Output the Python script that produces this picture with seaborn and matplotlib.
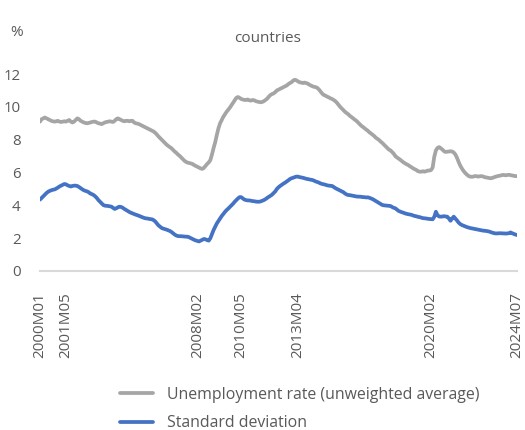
import numpy as np
import pandas as pd
import matplotlib
matplotlib.use("Agg")
import matplotlib.pyplot as plt
import seaborn as sns

# Monthly series, 2000M01 .. 2024M07 (one row per year)
unemployment_avg = [
    9.10, 9.25, 9.30, 9.35, 9.30, 9.25, 9.20, 9.15, 9.12, 9.10, 9.12, 9.15,
    9.10, 9.08, 9.10, 9.12, 9.10, 9.15, 9.20, 9.10, 9.05, 9.10, 9.20, 9.30,
    9.25, 9.15, 9.10, 9.05, 9.02, 9.00, 9.02, 9.05, 9.08, 9.10, 9.10, 9.05,
    9.00, 8.98, 8.95, 9.00, 9.05, 9.08, 9.10, 9.12, 9.10, 9.08, 9.15, 9.25,
    9.30, 9.25, 9.20, 9.15, 9.12, 9.15, 9.15, 9.12, 9.15, 9.15, 9.05, 9.00,
    8.98, 8.95, 8.90, 8.85, 8.80, 8.75, 8.70, 8.65, 8.60, 8.55, 8.50, 8.42,
    8.32, 8.20, 8.10, 8.00, 7.90, 7.80, 7.70, 7.62, 7.55, 7.48, 7.38, 7.28,
    7.20, 7.10, 7.02, 6.92, 6.82, 6.72, 6.65, 6.60, 6.58, 6.55, 6.52, 6.45,
    6.40, 6.35, 6.30, 6.25, 6.22, 6.28, 6.40, 6.52, 6.62, 6.76, 7.10, 7.50,
    7.85, 8.30, 8.70, 9.00, 9.20, 9.40, 9.55, 9.70, 9.82, 9.95, 10.10, 10.25,
    10.40, 10.55, 10.60, 10.55, 10.48, 10.45, 10.42, 10.42, 10.45, 10.40, 10.38, 10.42,
    10.40, 10.35, 10.32, 10.30, 10.28, 10.30, 10.35, 10.42, 10.50, 10.62, 10.72, 10.78,
    10.82, 10.90, 11.00, 11.05, 11.10, 11.15, 11.20, 11.25, 11.30, 11.38, 11.45, 11.50,
    11.60, 11.65, 11.62, 11.55, 11.50, 11.48, 11.45, 11.48, 11.45, 11.42, 11.35, 11.30,
    11.25, 11.22, 11.20, 11.15, 11.05, 10.92, 10.80, 10.72, 10.68, 10.62, 10.58, 10.52,
    10.48, 10.42, 10.35, 10.25, 10.12, 10.00, 9.90, 9.80, 9.70, 9.62, 9.55, 9.45,
    9.38, 9.30, 9.22, 9.15, 9.05, 8.95, 8.85, 8.78, 8.70, 8.62, 8.55, 8.45,
    8.38, 8.30, 8.22, 8.12, 8.05, 7.98, 7.88, 7.80, 7.70, 7.60, 7.50, 7.40,
    7.35, 7.25, 7.15, 7.00, 6.92, 6.85, 6.78, 6.70, 6.62, 6.56, 6.50, 6.45,
    6.38, 6.32, 6.25, 6.20, 6.15, 6.08, 6.05, 6.05, 6.08, 6.05, 6.08, 6.12,
    6.12, 6.15, 6.30, 6.96, 7.35, 7.50, 7.55, 7.48, 7.40, 7.30, 7.25, 7.27,
    7.28, 7.30, 7.28, 7.22, 7.10, 6.90, 6.65, 6.42, 6.25, 6.10, 5.98, 5.88,
    5.80, 5.75, 5.74, 5.75, 5.78, 5.78, 5.75, 5.77, 5.78, 5.76, 5.72, 5.70,
    5.68, 5.66, 5.65, 5.68, 5.72, 5.75, 5.78, 5.80, 5.82, 5.85, 5.85, 5.83,
    5.85, 5.86, 5.84, 5.82, 5.80, 5.78, 5.78,
]

standard_deviation = [
    4.35, 4.45, 4.55, 4.65, 4.75, 4.83, 4.88, 4.92, 4.95, 4.97, 5.02, 5.08,
    5.15, 5.20, 5.25, 5.30, 5.28, 5.22, 5.18, 5.15, 5.18, 5.20, 5.20, 5.18,
    5.12, 5.05, 4.98, 4.92, 4.88, 4.85, 4.80, 4.72, 4.68, 4.63, 4.55, 4.45,
    4.32, 4.22, 4.12, 4.02, 3.98, 3.97, 3.96, 3.94, 3.92, 3.85, 3.78, 3.82,
    3.88, 3.92, 3.90, 3.85, 3.78, 3.72, 3.66, 3.60, 3.55, 3.51, 3.47, 3.43,
    3.40, 3.36, 3.32, 3.28, 3.24, 3.21, 3.20, 3.18, 3.16, 3.15, 3.10, 3.02,
    2.90, 2.78, 2.70, 2.62, 2.58, 2.55, 2.52, 2.48, 2.44, 2.38, 2.30, 2.22,
    2.16, 2.13, 2.12, 2.12, 2.11, 2.10, 2.09, 2.09, 2.05, 2.00, 1.95, 1.90,
    1.86, 1.83, 1.80, 1.85, 1.90, 1.95, 1.93, 1.88, 1.85, 2.00, 2.25, 2.50,
    2.70, 2.90, 3.05, 3.21, 3.35, 3.48, 3.60, 3.71, 3.80, 3.90, 4.00, 4.10,
    4.22, 4.32, 4.42, 4.50, 4.50, 4.42, 4.35, 4.32, 4.30, 4.30, 4.28, 4.26,
    4.25, 4.23, 4.22, 4.22, 4.24, 4.28, 4.32, 4.38, 4.45, 4.52, 4.58, 4.65,
    4.75, 4.85, 5.00, 5.10, 5.18, 5.25, 5.32, 5.38, 5.45, 5.52, 5.60, 5.65,
    5.68, 5.72, 5.75, 5.75, 5.72, 5.70, 5.68, 5.65, 5.62, 5.60, 5.58, 5.56,
    5.54, 5.50, 5.45, 5.42, 5.38, 5.33, 5.30, 5.28, 5.25, 5.22, 5.20, 5.19,
    5.18, 5.12, 5.05, 5.00, 4.95, 4.90, 4.85, 4.80, 4.72, 4.66, 4.63, 4.62,
    4.60, 4.58, 4.56, 4.54, 4.53, 4.53, 4.52, 4.50, 4.50, 4.48, 4.49, 4.46,
    4.42, 4.38, 4.32, 4.26, 4.20, 4.14, 4.08, 4.02, 4.00, 3.99, 3.98, 3.97,
    3.96, 3.90, 3.85, 3.82, 3.74, 3.66, 3.62, 3.58, 3.55, 3.51, 3.48, 3.46,
    3.44, 3.42, 3.38, 3.35, 3.33, 3.30, 3.28, 3.25, 3.22, 3.21, 3.20, 3.18,
    3.17, 3.16, 3.15, 3.30, 3.61, 3.40, 3.32, 3.31, 3.32, 3.34, 3.32, 3.31,
    3.20, 3.06, 3.20, 3.31, 3.20, 3.08, 2.95, 2.86, 2.80, 2.76, 2.72, 2.68,
    2.65, 2.62, 2.60, 2.58, 2.56, 2.54, 2.52, 2.50, 2.48, 2.46, 2.45, 2.44,
    2.42, 2.40, 2.36, 2.33, 2.30, 2.29, 2.29, 2.30, 2.30, 2.29, 2.29, 2.28,
    2.29, 2.30, 2.35, 2.30, 2.26, 2.22, 2.19,
]

series_names = ["Unemployment rate (unweighted average)", "Standard deviation"]
series_colors = ["#a5a5a5", "#4472c4"]
tick_labels = ["2000M01", "2001M05", "2008M02", "2010M05", "2013M04", "2020M02", "2024M07"]
y_ticks = [0, 2, 4, 6, 8, 10, 12]

months = [f"{2000 + i // 12}M{i % 12 + 1:02d}" for i in range(len(unemployment_avg))]

df = pd.DataFrame({
    "period": months * 2,
    "t": list(range(len(months))) * 2,
    "value": unemployment_avg + standard_deviation,
    "series": [series_names[0]] * len(months) + [series_names[1]] * len(months),
})

sns.set_theme(style="white")
plt.rcParams["font.family"] = ["Open Sans", "DejaVu Sans"]
text_color = "#595959"

fig = plt.figure(figsize=(5.25, 4.3), dpi=100)
ax = fig.add_axes([0.0762, 0.3698, 0.9086, 0.458])

sns.lineplot(data=df, x="t", y="value", hue="series", hue_order=series_names,
             palette=series_colors, linewidth=2.7, legend=False, ax=ax)

ax.set_xlim(0, len(months) - 1)
ax.set_ylim(0, 12)
ax.set_yticks(y_ticks)
ax.set_yticklabels([str(v) for v in y_ticks], color=text_color, fontsize=10.8)
ax.set_xticks([months.index(m) for m in tick_labels])
ax.set_xticklabels(tick_labels, rotation=90, color=text_color, fontsize=11,
                   va="top", ha="center")
ax.tick_params(axis="y", length=0, pad=14)
ax.tick_params(axis="x", length=0, pad=15)
ax.set_xlabel("")
ax.set_ylabel("")
for side in ["top", "right", "left"]:
    ax.spines[side].set_visible(False)
ax.spines["bottom"].set_color("#d9d9d9")
ax.spines["bottom"].set_linewidth(1.5)
ax.grid(False)

fig.text(10 / 525, 1 - 33 / 430, "%", color=text_color, fontsize=11, va="center", ha="left")
fig.text(268 / 525, 1 - 39 / 430, "countries", color=text_color, fontsize=11,
         va="center", ha="center")

handles = ax.get_lines()[:2]
fig.legend(handles, series_names, loc="upper left",
           bbox_to_anchor=(112 / 525, 1 - 379 / 430), frameon=False,
           fontsize=11.4, labelcolor=text_color, handlelength=2.1,
           handletextpad=0.9, labelspacing=0.78, borderpad=0)

fig.savefig("out.png", dpi=100)
